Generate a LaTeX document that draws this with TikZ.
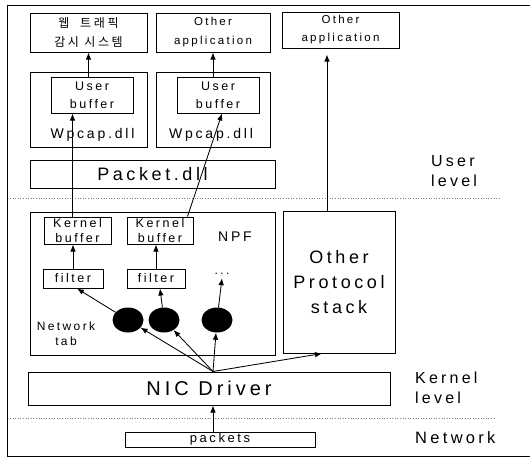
\documentclass[tikz,border=0pt]{standalone}
\usepackage{fontspec}
\setmainfont[LetterSpace=20]{Liberation Sans}
\newfontfamily\kofont[LetterSpace=22]{Noto Sans CJK KR}
\usetikzlibrary{arrows,arrows.meta,shapes.geometric}
\tikzset{box/.style={draw=black,line width=1pt,inner sep=0pt,align=center},
  tap/.style={ellipse,fill=black,minimum width=31pt,minimum height=25pt,inner sep=0pt},
  arr/.style={-{Latex[length=7pt,width=5.5pt]},line width=0.85pt},
  sep/.style={gray,dotted,line width=0.6pt},
  lvl/.style={anchor=west,align=left,inner sep=0pt}}
\newcommand{\fs}[2]{\fontsize{#1}{#2}\selectfont}
\begin{document}
\begin{tikzpicture}[x=1pt,y=-1pt]
\useasboundingbox (0,0) rectangle (530,458);
% \draw[help lines] (0,0) grid[step=50] (530,458);
\draw[line width=0.7pt] (530,5) -- (7,5) -- (7,456) -- (530,456);
\draw[sep] (10,198) -- (500,198);
\draw[sep] (10,418) -- (495,418);
%
\node (app1) [box,minimum width=117pt,minimum height=39pt,font={\kofont\fs{12}{19}}] at (88.5,32.5) {웹~ 트래픽\\감시 시스템};
\node (app2) [box,minimum width=114pt,minimum height=39pt,font={\fs{11.5}{19}}] at (213,32.5) {Other\\application};
\node (app3) [box,minimum width=117pt,minimum height=36pt,font={\fs{11.5}{18}}] at (340.5,30) {Other\\application};
%
\node (wp1) [box,minimum width=117pt,minimum height=75pt] at (88.5,109.5) {};
\node (wp2) [box,minimum width=114pt,minimum height=75pt] at (213,109.5) {};
\node (ub1) [box,minimum width=82pt,minimum height=36pt,font={\fs{12.5}{18}}] at (92,95) {User\\buffer};
\node (ub2) [box,minimum width=82pt,minimum height=36pt,font={\fs{12.5}{18}}] at (218,95) {User\\buffer};
\node (wp1txt) [font=\fs{14}{16}] at (92.5,135) {Wpcap.dll};
\node (wp2txt) [font=\fs{14}{16}] at (211,135) {Wpcap.dll};
\node (pdll) [box,minimum width=245pt,minimum height=28pt,font=\fs{18}{20}] at (152.5,174) {Packet.dll};
%
\node (npf) [box,minimum width=245pt,minimum height=143pt] at (152.5,283.5) {};
\node (npftxt) [font=\fs{14}{16}] at (235,237) {NPF};
\node (nettab) [align=center,font=\fs{12}{15}] at (66,334) {Network\\tab};
\node (kb1) [box,minimum width=67pt,minimum height=27pt,font={\fs{12.5}{15}}] at (77.5,230.5) {Kernel\\buffer};
\node (kb2) [box,minimum width=66pt,minimum height=27pt,font={\fs{12.5}{15}}] at (160,230.5) {Kernel\\buffer};
\node (ft1) [box,minimum width=60pt,minimum height=19pt,font=\fs{12.5}{13}] at (73,278.5) {filter};
\node (ft2) [box,minimum width=58pt,minimum height=19pt,font=\fs{12.5}{13}] at (156,278.5) {filter};
\node (more) [font=\fs{12}{13}] at (222,274) {...};
\node (tap1) [tap] at (128,320) {};
\node (tap2) [tap] at (164,320) {};
\node (tap3) [tap] at (217,320) {};
\node (ops) [box,minimum width=112pt,minimum height=142pt,font={\fs{18}{25}}] at (339,282) {Other\\Protocol\\stack};
%
\node (nic) [box,minimum width=362pt,minimum height=33pt,font=\fs{20}{22}] at (209,388.5) {NIC Driver};
\coordinate (hub) at ([xshift=4pt]nic.north);
\node (pk) [box,minimum width=190pt,minimum height=15pt,font=\fs{13}{13}] at (220,439.5) {packets};
%
\node (ulvl) [lvl,font={\fs{16}{20}}] at (431,171) {User\\level};
\node (klvl) [lvl,font={\fs{16}{20}}] at (415,388) {Kernel\\level};
\node (nlvl) [lvl,font={\fs{16.5}{20}}] at (415,438) {Network};
%
\path[arr] (pk.north -| hub) edge (nic.south -| hub);
\path[arr] (hub) edge (tap1);
\path[arr] (hub) edge (tap2);
\path[arr] (hub) edge (tap3);
\path[arr] (hub) edge ([xshift=-17pt]ops.south);
\path[arr] (tap1) edge ([xshift=4pt]ft1.south);
\path[arr] (tap2) edge ([xshift=4pt]ft2.south);
\path[arr] (tap3) edge (more.south);
\path[arr] (ft1.north) edge (kb1.south -| ft1.north);
\path[arr] (ft2.north) edge (kb2.south -| ft2.north);
\path[arr] ([xshift=-5pt]kb1.north) edge ([xshift=-5pt]kb1.north |- ub1.south);
\path[arr] ([xshift=-6pt]kb2.north east) edge ([xshift=4pt]ub2.south);
\path[arr] ([xshift=-12pt]ops.north) edge ([xshift=-12pt,yshift=-6pt]ops.north |- app3.south);
\path[arr] (app1.south |- ub1.north) edge (app1.south);
\path[arr] (app2.south |- ub2.north) edge (app2.south);
\end{tikzpicture}
\end{document}
